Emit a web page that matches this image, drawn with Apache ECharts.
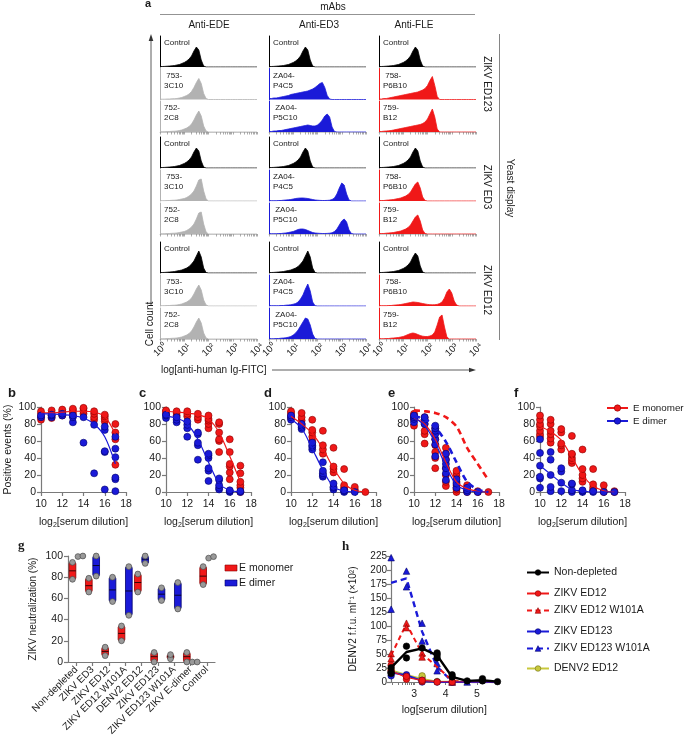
<!DOCTYPE html>
<html><head><meta charset="utf-8">
<script src="https://cdn.jsdelivr.net/npm/echarts@6/dist/echarts.min.js"></script>
<style>html,body{margin:0;padding:0;background:#fff}#c{width:685px;height:742px}</style>
</head><body><div id="c"></div>
<script>
// ---------------- DATA ----------------
// Panel a: histograms, bins of 0.1 log10 units starting at 10^0
const histTickLabels = ['10\u2070','10\u00b9','10\u00b2','10\u00b3','10\u2074'];
const ctrlA   = [0.5,0.5,0.6,0.8,1,1.2,1.5,2,2.5,3.5,4.5,6,8,11,16,20,17,7,1,0];
const ctrlB   = [0.5,0.5,0.6,0.8,1,1.2,1.5,2,2.5,3,4,5,6.5,9,12,17,22,16,5,0.5,0];
const grayA   = [0.3,0.3,0.3,0.5,0.5,0.7,0.8,1,1.5,2,3,4,5.5,8,12,17,21,16,6,1,0];
const grayB   = [0.3,0.3,0.3,0.5,0.5,0.7,0.8,1,1.5,2,2.5,3.5,5,7,10,15,21,22,10,2,0];
const blueG1a = [1,1,1.5,1.5,2,2.5,3,3.5,4,5,5.5,6,6.5,7,7.5,8,8.5,9.5,10.5,12,14,16,17,12,4,0.5,0];
const blueG1b = [0.5,0.5,1,1,1.5,1.5,2,2.5,3,3.5,4,4.5,5,5.5,6,6.5,7,6.5,6,6,7,9,12,16,18,15,5,0.5,0];
const redG1a  = [0.5,0.5,1,1,1.5,2,2.5,3,3.5,4,4.5,5,5.5,6,6.5,7,7.5,8.5,9.5,11,14,19,23,14,3,0];
const redG1b  = [0.5,0.5,0.8,1,1.2,1.5,2,2.5,3,3.5,4,4.5,5,5.5,6,6.5,7,7.5,8.5,10,13,18,23,15,3,0];
const blueG2a = [0.5,0.3,0.3,0.3,0.5,0.5,0.8,1,1.2,1.5,2,2.5,2.8,3,3,2.8,2.5,2,1.5,1,0.8,0.6,0.5,0.5,0.6,0.8,1.5,3,7,13,18,16,7,1,0];
const blueG2b = [0.5,0.3,0.3,0.3,0.5,0.5,0.8,1,1.5,2,2.5,3.5,4.5,5,5,4.5,3.5,2.5,1.5,1,0.8,0.6,0.5,0.5,0.6,0.8,1.2,2.5,5,9,13,15,12,4,0.5,0];
const redG2   = [0.5,0.5,0.5,0.8,1,1.2,1.5,2,2.5,3,4,5,6.5,9,13,17,19,13,4,0.5,0];
const blueG3a = [0.5,0.3,0.3,0.3,0.3,0.5,0.5,0.8,1,1.2,1.8,2.5,4,7,11,17,22,15,4,0.3,0];
const blueG3b = [0.5,0.3,0.3,0.5,0.5,0.8,1,1.2,1.8,2.5,4,6,9,13,17,21,20,14,5,0.5,0];
const redG3a  = [0.5,0.3,0.3,0.3,0.5,0.5,0.8,1,1.2,1.5,2,2.5,3,3.5,4,3.8,3.5,3,2.5,2,1.6,1.3,1.2,1.3,1.6,2.5,4,8,14,17,13,5,1,0];
const redG3b  = [0.5,0.3,0.3,0.5,0.5,0.8,1,1.2,1.5,2,2.5,3.5,4.5,5.5,6,5.5,4.5,3.5,2.8,2.5,2.5,3,4,7,14,22,24,12,2,0];
const histColumns = ['Anti-EDE','Anti-ED3','Anti-FLE'];
const histGroups = ['ZIKV ED123','ZIKV ED3','ZIKV ED12'];
const histRowLabels = [['Control','Control','Control'],[' 753-\n3C10','ZA04-\nP4C5',' 758-\nP6B10'],['752-\n2C8',' ZA04-\nP5C10','759-\nB12']];
const histLayout = [
  [[ctrlA,ctrlA,ctrlA],[grayA,blueG1a,redG1a],[grayA,blueG1b,redG1b]],
  [[ctrlA,ctrlA,ctrlA],[grayB,blueG2a,redG2],[grayB,blueG2b,redG2]],
  [[ctrlB,ctrlB,ctrlA],[grayA,blueG3a,redG3a],[grayA,blueG3b,redG3b]]
];

// Panels b-f: log2 serum dilution
const dil = [10,11,12,13,14,15,16,17];
const b_red  = [[85,88,92,95],[87,90,93,96],[90,93,95,97],[90,93,96,98],[92,95,98,99],[85,88,92,95],[83,86,89,91],[32,62,70,80]];
const b_blue = [[88,90],[88,90,91],[90,92],[82,88,90],[58,88],[22,79],[3,47,48,73,77],[1,15,17,41,51,65]];
const b_fitRed  = [93,93,94,95,95,94,89,68];
const b_fitBlue = [92,92,91,90,87,80,65,33];
const c_red  = [[92,95,96],[90,93,95],[89,92,95],[85,88,92],[75,80,84,86,90],[47,60,62,70,80,82],[15,23,30,33,47,62],[0,5,8,12,22,31]];
const c_blue = [[87,90,91],[82,85,88],[65,75,79,83],[38,55,58,68,70],[13,25,28,40,43,45],[3,5,8,14,16],[0,1,2],[0,1]];
const c_fitRed  = [95,94,93,91,86,70,42,12];
const c_fitBlue = [89,87,80,62,35,10,2,0];
const d_red  = [[87,90,93,95],[80,84,88,93],[60,65,70,73,85],[45,50,55,72],[23,27,30,52],[3,5,8,27],[1,3,6],[0]];
const d_blue = [[85,88,90],[74,76,78,80],[50,53,55,58],[18,20,22,25,35],[3,5,6,10],[0,1,2],[0],[]];
const d_fitRed  = [89,80,69,51,28,10,2,0];
const d_fitBlue = [86,75,51,26,6,1,0];
const e_red  = [[78,85,88,90,92],[57,68,72,80,85,88],[28,40,47,55,62,70,75],[7,12,20,28,38,45,52],[0,3,5,8,12,18,22,25],[0,2,5,8],[0,1],[0]];
const e_blue = [[82,86,88,90],[80,85,88],[42,56,62,68,72,75,78],[14,22,28,33,38,45],[5,10,15],[0,2,5],[0],[]];
const e_fitRed   = [87,80,62,35,12,4,1,0];
const e_fitBlue  = [88,78,58,30,8,2,0,0];
const e_dashRed  = [96,95,93,88,77,52,33,14];
const e_dashBlue = [89,86,76,59,35,12,3,0];
const f_red  = [[65,68,72,77,80,85,90],[58,63,68,72,80,85],[50,55,57,70,74],[34,37,40,44,45,66],[12,16,20,27,50],[2,5,9,27],[0,1,8],[0,1]];
const f_blue = [[5,16,18,31,46,62],[1,6,20,38,47],[1,11,24,28],[0,2,9,10],[0,1,2],[0,1],[0],[0]];
const f_fitRed  = [77,71,61,41,20,7,1.5,0];
const f_fitBlue = [31,21,11,3,1,0,0,0];

// Panel g
const gCats = ['Non-depleted','ZIKV ED3','ZIKV ED12','ZIKV ED12 W101A','DENV2 ED12','ZIKV ED123','ZIKV ED123 W101A','ZIKV E-dimer','Control'];
const monoMin = [78,66,6,20,66,0,3,0,73];
const monoMax = [94,79,14,34,83,9,7,9,90];
const monoMed = [86,72,10,27,75,5,5,5,81];
const dimMin  = [null,81,57,44,93,58,50,null,null];
const dimMax  = [null,100,80,90,100,70,75,null,null];
const dimMed  = [null,91,68,67,97,64,63,null,null];
const gExtra  = [[0,99.5],[0,100],[7,0],[7,0],[8,98],[8,99.4]];

// Panel h: log10 serum dilution
const hDil = [2.26,2.75,3.25,3.73,4.21,4.69,5.18,5.66];
const h_nonDep    = [25.6,53.6,60,47.6,9,2,3,0.6];
const h_nonDepPts = [[25.6,16.7,15],[64,43],[60.7],[52,48,43],[13,9],[2],[6,2],[0.6]];
const h_ed12      = [19.6,8,3,0.5,0,0,0,0];
const h_ed12Pts   = [[20,30],[5,10],[1,3],[0],[0],[],[],[]];
const h_ed12w     = [47.6,104,50.6,26.8,3,0,0,0];
const h_ed12wPts  = [[50.6,41.7],[105,97],[51.8,44.6],[],[2,0],[],[],[]];
const h_ed123     = [17,12,2,0,0,0,0,0];
const h_ed123Pts  = [[11,18],[10,13],[0,3],[0],[0],[],[],[]];
const h_ed123w    = [177,185,90,27,1,0,0,0];
const h_ed123wPts = [[130,222],[170,198],[73,105],[20,33],[0],[0],[],[]];
const h_denv      = [20,12,5,0,0,0,0,0];
const h_denvPts   = [[18,22],[10],[8,11],[1],[],[],[],[]];

// ---------------- BUILD ----------------
const FONT = '"Liberation Sans", Arial, Helvetica, sans-serif';
const RED = '#f01818', RED_D = '#8a0000', BLUE = '#1a1ad8', BLUE_D = '#00006a', GRAYH = '#b2b2b2';
const OLIVE = '#c8c83c', OLIVE_D = '#6f6f10';
const AX = '#7a7a7a', TXT = '#1a1a1a';
const grids = [], xAxes = [], yAxes = [], series = [], graphics = [], legends = [];

function addGrid(g, x, y) {
  grids.push(Object.assign({outerBoundsMode: 'none', containLabel: false, show: false}, g));
  const i = grids.length - 1;
  x.gridIndex = i; y.gridIndex = i; xAxes.push(x); yAxes.push(y);
  return i;
}
function txt(x, y, text, o) {
  o = o || {};
  graphics.push({type: 'text', x, y, rotation: o.rot || 0, z: 50,
    style: {text, fill: o.fill || TXT, font: (o.bold ? 'bold ' : '') + (o.size || 10) + 'px ' + (o.family || FONT),
      align: o.align || 'left', verticalAlign: o.va || 'middle', lineHeight: o.lh}});
}
function seg(x1, y1, x2, y2, col, w) {
  graphics.push({type: 'line', z: 50, shape: {x1, y1, x2, y2}, style: {stroke: col || '#555', lineWidth: w || 1}});
}
function pad(a) { return a.concat(new Array(Math.max(0, 41 - a.length)).fill(0)); }

// ---- Panel a ----
const colLeft = [160, 269, 379], colW = 97, rowH = 31;
const rowBase = [[67, 99.5, 132], [168, 201, 234], [273, 306, 339]];
const histTicks = [];
for (let k = 0; k < 4; k++) { histTicks.push(k); for (let m = 2; m < 10; m++) histTicks.push(k + Math.log10(m)); }
histTicks.push(4);
for (let g = 0; g < 3; g++) for (let r = 0; r < 3; r++) for (let c = 0; c < 3; c++) {
  const top = rowBase[g][r] - rowH;
  const color = r === 0 ? '#000' : [GRAYH, BLUE, RED][c];
  const bottom = r === 2, last = g === 2 && r === 2;
  const gi = addGrid({left: colLeft[c], top, width: colW, height: rowH},
    {type: 'value', min: 0, max: 4,
      axisLine: {show: bottom, lineStyle: {color: '#aaa', width: 0.6}},
      axisTick: {show: bottom, customValues: histTicks, length: 2.5, lineStyle: {color: '#888', width: 0.7}},
      axisLabel: {show: last, customValues: [0,1,2,3,4], rotate: 45, margin: 11, align: 'center', verticalAlign: 'middle',
        fontSize: 9.5, fontFamily: FONT, color: TXT, formatter: v => histTickLabels[Math.round(v)]},
      splitLine: {show: false}},
    {type: 'value', min: 0, max: rowH,
      axisLine: {show: true, lineStyle: {color, width: 1}}, axisTick: {show: false}, axisLabel: {show: false}, splitLine: {show: false}});
  series.push({type: 'line', xAxisIndex: gi, yAxisIndex: gi, symbol: 'none', silent: true,
    data: pad(histLayout[g][r][c]).map((v, i) => [i * 0.1, v]),
    lineStyle: {color, width: 0.8}, areaStyle: {color, opacity: 1}});
  txt(colLeft[c] + 4, top + 2, histRowLabels[r][c], {size: 8, va: 'top', lh: 10});
}
txt(145, 4, 'a', {bold: true, size: 11});
txt(333, 7, 'mAbs', {align: 'center', size: 10});
seg(160, 14.5, 475, 14.5, '#777', 0.8);
[209, 319, 414].forEach((x, i) => txt(x, 25, histColumns[i], {align: 'center', size: 10}));
[84, 187, 290].forEach((y, i) => txt(487, y, histGroups[i], {align: 'center', size: 10, rot: -Math.PI / 2}));
seg(499.5, 34, 499.5, 340, '#666', 0.8);
txt(510, 188, 'Yeast display', {align: 'center', size: 10, rot: -Math.PI / 2});
// y arrow
seg(151, 306, 151, 39, '#333', 0.8);
graphics.push({type: 'polygon', z: 50, shape: {points: [[151, 34], [148.7, 41], [153.3, 41]]}, style: {fill: '#333'}});
txt(150, 324, 'Cell count', {align: 'center', size: 10, rot: Math.PI / 2});
// x arrow
txt(161, 370, 'log[anti-human Ig-FITC]', {size: 10});
seg(272, 370, 470, 370, '#333', 0.8);
graphics.push({type: 'polygon', z: 50, shape: {points: [[476, 370], [469, 367.7], [469, 372.3]]}, style: {fill: '#333'}});

// ---- Panels b-f ----
function pts(arr) { const out = []; arr.forEach((vals, i) => vals.forEach(v => out.push([dil[i], v]))); return out; }
function fit(arr) { return arr.map((v, i) => [dil[i], v]); }
const bf = [
  {L: 41, letter: 'b', lx: 8, red: b_red, blue: b_blue, fr: b_fitRed, fb: b_fitBlue, yName: true},
  {L: 166, letter: 'c', lx: 139, red: c_red, blue: c_blue, fr: c_fitRed, fb: c_fitBlue},
  {L: 291, letter: 'd', lx: 264, red: d_red, blue: d_blue, fr: d_fitRed, fb: d_fitBlue},
  {L: 414, letter: 'e', lx: 388, red: e_red, blue: e_blue, fr: e_fitRed, fb: e_fitBlue, dr: e_dashRed, db: e_dashBlue},
  {L: 540, letter: 'f', lx: 514, red: f_red, blue: f_blue, fr: f_fitRed, fb: f_fitBlue, legend: true}
];
const axisCommon = {
  axisLine: {show: true, lineStyle: {color: AX, width: 1.2}},
  axisTick: {show: true, length: 4, lineStyle: {color: AX, width: 1.2}},
  splitLine: {show: false}
};
bf.forEach(p => {
  const gi = addGrid({left: p.L, top: 407, width: 85, height: 85},
    Object.assign({type: 'value', min: 10, max: 18, interval: 2,
      axisLabel: {fontSize: 10.5, fontFamily: FONT, color: TXT, margin: 7},
      name: 'log{s|2}[serum dilution]', nameLocation: 'middle', nameGap: 23,
      nameTextStyle: {fontSize: 10.5, fontFamily: FONT, color: TXT, rich: {s: {fontSize: 7, fontFamily: FONT, color: TXT, padding: [7, 0, 0, 0]}}}}, axisCommon),
    Object.assign({type: 'value', min: 0, max: 100, interval: 20,
      axisLabel: {fontSize: 10.5, fontFamily: FONT, color: TXT, margin: 5},
      name: p.yName ? 'Positive events (%)' : '', nameLocation: 'middle', nameGap: 27,
      nameTextStyle: {fontSize: 10.5, fontFamily: FONT, color: TXT}}, axisCommon));
  const sc = (data, col, dk) => ({type: 'scatter', xAxisIndex: gi, yAxisIndex: gi, data, symbolSize: 7, z: 3,
    itemStyle: {color: col, borderColor: dk, borderWidth: 0.6, opacity: 1}});
  series.push(sc(pts(p.red), RED, RED_D));
  series.push(sc(pts(p.blue), BLUE, BLUE_D));
  const ln = (name, data, col, dk) => ({type: 'line', name, xAxisIndex: gi, yAxisIndex: gi, data, smooth: 0.3,
    symbol: 'circle', showSymbol: false, z: 4, lineStyle: {color: col, width: 1.2},
    itemStyle: {color: col, borderColor: dk, borderWidth: 0.6}});
  series.push(ln(p.legend ? 'E monomer' : '', fit(p.fr), RED, RED_D));
  series.push(ln(p.legend ? 'E dimer' : '', fit(p.fb), BLUE, BLUE_D));
  if (p.dr) {
    series.push({type: 'line', xAxisIndex: gi, yAxisIndex: gi, data: fit(p.dr), smooth: 0.3, symbol: 'none', z: 5,
      lineStyle: {color: RED, width: 2.6, type: [6, 4]}});
    series.push({type: 'line', xAxisIndex: gi, yAxisIndex: gi, data: fit(p.db), smooth: 0.3, symbol: 'none', z: 5,
      lineStyle: {color: BLUE, width: 2.6, type: [6, 4]}});
  }
  txt(p.lx, 393, p.letter, {bold: true, size: 13});
});
legends.push({data: ['E monomer', 'E dimer'], orient: 'vertical', left: 601, top: 398, itemWidth: 21, itemHeight: 8,
  itemGap: 3, textStyle: {fontSize: 9.8, fontFamily: FONT, color: TXT}, selectedMode: false,
  itemStyle: {borderWidth: 0.6}});

// ---- Panel g ----
const gi_g = addGrid({left: 68, top: 556, width: 147, height: 106},
  {type: 'category', data: gCats,
    axisLine: {show: true, lineStyle: {color: AX, width: 1.2}},
    axisTick: {show: true, alignWithLabel: true, length: 4, lineStyle: {color: AX, width: 1.2}},
    axisLabel: {interval: 0, rotate: 45, margin: 6, fontSize: 10, fontFamily: FONT, color: TXT}},
  Object.assign({type: 'value', min: 0, max: 100, interval: 20,
    axisLabel: {fontSize: 10.5, fontFamily: FONT, color: TXT, margin: 5},
    name: 'ZIKV neutralization (%)', nameLocation: 'middle', nameGap: 30,
    nameTextStyle: {fontSize: 10, fontFamily: FONT, color: TXT}}, axisCommon));
function rangeData(mn, mx, md, side) {
  const out = [];
  mn.forEach((v, i) => { if (v !== null) out.push([i, mn[i], mx[i], md[i], side]); });
  return out;
}
function renderRange(params, api) {
  const i = api.value(0), lo = api.value(1), hi = api.value(2), med = api.value(3), side = api.value(4);
  const band = api.size([1, 0])[0];
  const cx = api.coord([i, 0])[0];
  const w = band * 0.41;
  const x0 = side < 0 ? cx - w - band * 0.02 : cx + band * 0.02;
  const yLo = api.coord([i, lo])[1], yHi = api.coord([i, hi])[1], yMed = api.coord([i, med])[1];
  const col = side < 0 ? RED : BLUE, dk = side < 0 ? RED_D : BLUE_D;
  const xc = x0 + w / 2;
  const dot = cy => ({type: 'circle', shape: {cx: xc, cy, r: 2.9}, style: {fill: '#999', stroke: '#4a4a4a', lineWidth: 0.7}});
  return {type: 'group', children: [
    {type: 'rect', shape: {x: x0, y: yHi, width: w, height: Math.max(1, yLo - yHi), r: 1.5}, style: {fill: col, stroke: dk, lineWidth: 0.8}},
    {type: 'line', shape: {x1: x0, y1: yMed, x2: x0 + w, y2: yMed}, style: {stroke: '#000', lineWidth: 0.8}},
    dot(yLo), dot(yHi)
  ]};
}
series.push({type: 'custom', xAxisIndex: gi_g, yAxisIndex: gi_g, renderItem: renderRange, encode: {x: 0, y: [1, 2]},
  data: rangeData(monoMin, monoMax, monoMed, -1), z: 3});
series.push({type: 'custom', xAxisIndex: gi_g, yAxisIndex: gi_g, renderItem: renderRange, encode: {x: 0, y: [1, 2]},
  data: rangeData(dimMin, dimMax, dimMed, 1), z: 3});
series.push({type: 'custom', xAxisIndex: gi_g, yAxisIndex: gi_g, encode: {x: 0, y: 1}, z: 4,
  data: gExtra.map((p, k) => [p[0], p[1], k % 2]),
  renderItem: (params, api) => {
    const band = api.size([1, 0])[0];
    const pt = api.coord([api.value(0), api.value(1)]);
    return {type: 'circle', shape: {cx: pt[0] + band * (api.value(2) ? 0.41 : 0.11), cy: pt[1], r: 2.9},
      style: {fill: '#999', stroke: '#4a4a4a', lineWidth: 0.7}};
  }});
txt(18, 546, 'g', {bold: true, size: 13, family: '"Liberation Serif", serif'});
graphics.push({type: 'rect', z: 50, shape: {x: 225, y: 565, width: 12, height: 6}, style: {fill: RED, stroke: RED_D, lineWidth: 0.6}});
graphics.push({type: 'rect', z: 50, shape: {x: 225, y: 580, width: 12, height: 6}, style: {fill: BLUE, stroke: BLUE_D, lineWidth: 0.6}});
txt(239, 568, 'E monomer', {size: 10.5});
txt(239, 583, 'E dimer', {size: 10.5});

// ---- Panel h ----
const hMinor = [];
for (let m = 2; m < 10; m++) hMinor.push(2 + Math.log10(m));
const gi_h = addGrid({left: 391, top: 556, width: 106.5, height: 126},
  {type: 'value', min: 2.256, max: 5.66,
    axisLine: {show: true, lineStyle: {color: AX, width: 1.2}},
    axisTick: {show: true, customValues: hMinor.filter(v => v > 2.26).concat([3, 4, 5]), length: 3, lineStyle: {color: AX, width: 1}},
    axisLabel: {customValues: [3, 4, 5], fontSize: 10.5, fontFamily: FONT, color: TXT, margin: 7},
    splitLine: {show: false},
    name: 'log[serum dilution]', nameLocation: 'middle', nameGap: 23,
    nameTextStyle: {fontSize: 10.5, fontFamily: FONT, color: TXT}},
  Object.assign({type: 'value', min: 0, max: 225, interval: 25,
    axisLabel: {fontSize: 10, fontFamily: FONT, color: TXT, margin: 4},
    name: 'DENV2 f.f.u. ml\u207b\u00b9 (\u00d710\u00b2)', nameLocation: 'middle', nameGap: 33,
    nameTextStyle: {fontSize: 10, fontFamily: FONT, color: TXT}}, axisCommon));
function hPts(arr) { const out = []; arr.forEach((vals, i) => vals.forEach(v => out.push([hDil[i], v]))); return out; }
function hLine(arr) { return arr.map((v, i) => [hDil[i], v]); }
const hSeries = [
  {name: 'ZIKV ED123 W101A', line: h_ed123w, pts: h_ed123wPts, col: BLUE, dk: BLUE_D, sym: 'triangle', w: 2.4, type: [6, 4], z: 3},
  {name: 'ZIKV ED12 W101A', line: h_ed12w, pts: h_ed12wPts, col: RED, dk: RED_D, sym: 'triangle', w: 2, type: [5, 3.5], z: 4},
  {name: 'DENV2 ED12', line: h_denv, pts: h_denvPts, col: OLIVE, dk: OLIVE_D, sym: 'circle', w: 2.6, type: 'solid', z: 5},
  {name: 'ZIKV ED123', line: h_ed123, pts: h_ed123Pts, col: BLUE, dk: BLUE_D, sym: 'circle', w: 2, type: 'solid', z: 6},
  {name: 'ZIKV ED12', line: h_ed12, pts: h_ed12Pts, col: RED, dk: RED_D, sym: 'circle', w: 1.2, type: 'solid', z: 7},
  {name: 'Non-depleted', line: h_nonDep, pts: h_nonDepPts, col: '#000', dk: '#000', sym: 'circle', w: 2.4, type: 'solid', z: 8}
];
hSeries.forEach(s => {
  series.push({type: 'line', name: s.name, xAxisIndex: gi_h, yAxisIndex: gi_h, data: hLine(s.line), symbol: s.sym, showSymbol: false,
    z: s.z, lineStyle: {color: s.col, width: s.w, type: s.type}, itemStyle: {color: s.col, borderColor: s.dk, borderWidth: 0.6}});
  series.push({type: 'scatter', xAxisIndex: gi_h, yAxisIndex: gi_h, data: hPts(s.pts), symbol: s.sym, symbolSize: 6.5,
    z: s.z, itemStyle: {color: s.col, borderColor: s.dk, borderWidth: 0.6, opacity: 1}});
});
const hLegendY = [571, 592, 609, 630, 647, 667];
['Non-depleted', 'ZIKV ED12', 'ZIKV ED12 W101A', 'ZIKV ED123', 'ZIKV ED123 W101A', 'DENV2 ED12'].forEach((n, k) => {
  legends.push({data: [n], left: 521, top: hLegendY[k] - 9, itemWidth: 22, itemHeight: 7, selectedMode: false,
    itemStyle: {borderWidth: 0.6},
    textStyle: {fontSize: 10.5, fontFamily: FONT, color: TXT}});
});
txt(342, 547, 'h', {bold: true, size: 13, family: '"Liberation Serif", serif'});

const chart = echarts.init(document.getElementById('c'), null, {renderer: 'canvas', width: 685, height: 742});
chart.setOption({
  animation: false, backgroundColor: '#fff',
  textStyle: {fontFamily: FONT},
  grid: grids, xAxis: xAxes, yAxis: yAxes, series, legend: legends, graphic: graphics
});
</script>
</body></html>
